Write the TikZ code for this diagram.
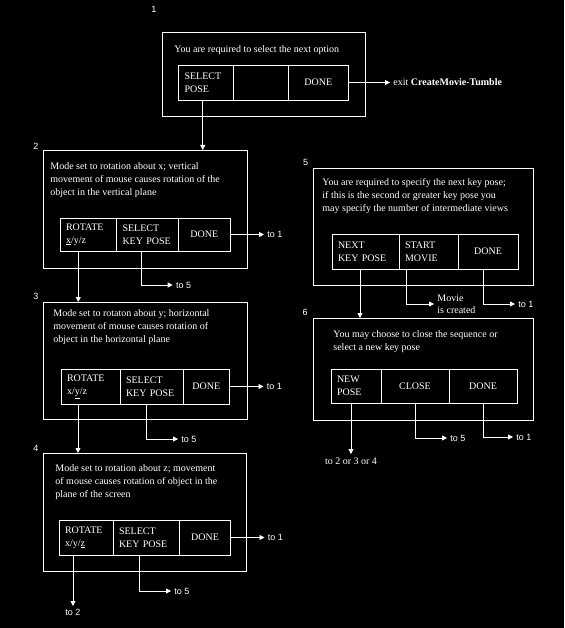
\documentclass[tikz,border=0pt]{standalone}
\usepackage{fontspec}
\setmainfont{Liberation Serif}
\setsansfont{Liberation Sans}
\usetikzlibrary{positioning,arrows.meta}

\begin{document}
\begin{tikzpicture}[x=1pt,y=-1pt,line width=0.8pt,>={Triangle[length=5pt,width=5pt]},
  every node/.style={text=white},
  panel/.style={draw=white,anchor=north west,inner sep=0pt,outer sep=0pt},
  btn/.style={draw=white,anchor=north west,outer sep=0pt,inner xsep=6pt,inner ysep=0pt,
    minimum height=35pt,text width=#1,align=left,font=\fontsize{10}{13}\selectfont},
  txt/.style={anchor=north west,inner sep=0pt,align=left,font=\fontsize{10}{13}\selectfont},
  lbl/.style={inner sep=3pt,font=\sffamily\fontsize{9}{11}\selectfont},
  lblserif/.style={inner sep=3pt,align=left,font=\fontsize{10}{12}\selectfont},
  num/.style={inner sep=0pt,font=\sffamily\fontsize{9}{11}\selectfont},
  wire/.style={draw=white,->}]
  \fill[black] (0,0) rectangle (564,628);

  \node[panel,minimum width=203pt,minimum height=84pt] (b1) at (162,32) {};
  \node[num] at (154,9) {1};
  \node[txt] (q1) at (174,45.5) {You are required to select the next option};
  \node[btn=42.5pt] (sel1) at (178.5,65) {SELECT\\POSE};
  \node[btn=43pt] (blank1) at (sel1.north east) {};
  \node[btn=48.5pt,align=center] (done1) at (blank1.north east) {DONE};
  \node[lblserif,right=41.5pt of done1] (exit1) {exit \textbf{CreateMovie-Tumble}};
  \draw[wire] (done1) -- (exit1);

  \node[panel,minimum width=204pt,minimum height=118pt] (b2) at (43,150) {};
  \node[num] at (36,146) {2};
  \node[txt] (q2) at (50,162) {Mode set to rotation about x; vertical\\movement of mouse causes rotation of the\\object in the vertical plane};
  \node[btn=44.5pt,minimum height=33pt] (rot2) at (60,218) {ROTATE\\\underline{x}/y/z};
  \node[btn=50pt,minimum height=33pt] (key2) at (rot2.north east) {SELECT\\KEY POSE};
  \node[btn=39.5pt,minimum height=33pt,align=center] (done2) at (key2.north east) {DONE};
  \node[lbl,right=34pt of done2] (t21) {to 1};
  \node[lbl,anchor=west] (t25) at (172.7,285) {to 5};
  \draw[wire] (done2) -- (t21);
  \coordinate (k2) at ([xshift=-6.5pt]key2.south);
  \draw[wire] (k2) |- (t25);

  \node[panel,minimum width=204pt,minimum height=117pt] (b3) at (43,302) {};
  \node[num] at (36,296) {3};
  \node[txt] (q3) at (53,309) {Mode set to rotaton about y; horizontal\\movement of mouse causes rotation of\\object in the horizontal plane};
  \node[btn=47pt] (rot3) at (61,369) {ROTATE\\x/\underline{y}/z};
  \node[btn=51pt] (key3) at (rot3.north east) {SELECT\\KEY POSE};
  \node[btn=34.5pt,align=center] (done3) at (key3.north east) {DONE};
  \node[lbl,right=34pt of done3] (t31) {to 1};
  \node[lbl,anchor=west] (t35) at (178,439) {to 5};
  \draw[wire] (done3) -- (t31);
  \coordinate (k3) at ([xshift=-5.5pt]key3.south);
  \draw[wire] (k3) |- (t35);

  \node[panel,minimum width=203.5pt,minimum height=118pt] (b4) at (43,453) {};
  \node[num] at (36,448) {4};
  \node[txt] (q4) at (55,464) {Mode set to rotation about z; movement\\of mouse causes rotation of object in the\\plane of the screen};
  \node[btn=42pt] (rot4) at (59,520) {ROTATE\\x/y/\underline{z}};
  \node[btn=54.5pt] (key4) at (rot4.north east) {SELECT\\KEY POSE};
  \node[btn=39pt,align=center] (done4) at (key4.north east) {DONE};
  \node[lbl,right=34pt of done4] (t41) {to 1};
  \node[lbl,anchor=west] (t45) at (171,591) {to 5};
  \node[lbl,anchor=north] (t42) at (73,606) {to 2};
  \draw[wire] (done4) -- (t41);
  \coordinate (k4) at ([xshift=-7pt]key4.south);
  \draw[wire] (k4) |- (t45);

  \coordinate (p1) at ([xshift=-3pt]sel1.south);
  \coordinate (p2) at ([xshift=-10pt]rot2.south);
  \coordinate (p3) at ([xshift=-12.5pt]rot3.south);
  \coordinate (p4) at ([xshift=-13pt]rot4.south);
  \draw[wire] (p1) -- (p1 |- b2.north);
  \draw[wire] (p2) -- (p2 |- b3.north);
  \draw[wire] (p3) -- (p3 |- b4.north);
  \draw[wire] (p4) -- (t42);

  \node[panel,minimum width=220pt,minimum height=117pt] (b5) at (313,168) {};
  \node[num] at (305.5,162.7) {5};
  \node[txt] (q5) at (322,178) {You are required to specify the next key pose;\\if this is the second or greater key pose you\\may specify the number of intermediate views};
  \node[btn=55pt] (next5) at (332,234) {NEXT\\KEY POSE};
  \node[btn=47pt] (movie5) at (next5.north east) {START\\MOVIE};
  \node[btn=48pt,align=center] (done5) at (movie5.north east) {DONE};
  \node[lblserif,anchor=west] (mv5) at (434,304) {Movie\\is created};
  \node[lbl,anchor=west] (t51) at (515,304) {to 1};
  \coordinate (n5) at ([xshift=-5.5pt]next5.south);
  \coordinate (m5) at ([xshift=-22.5pt]movie5.south);
  \coordinate (d5) at ([xshift=-5pt]done5.south);
  \draw[wire] (m5) |- (mv5);
  \draw[wire] (d5) |- (t51);

  \node[panel,minimum width=220pt,minimum height=102pt] (b6) at (313,318) {};
  \node[num] at (305,312.7) {6};
  \node[txt] (q6) at (333,330) {You may choose to close the sequence or\\select a new key pose};
  \node[btn=38pt,minimum height=34pt] (new6) at (331,369) {NEW\\POSE};
  \node[btn=56pt,minimum height=34pt,align=center] (close6) at (new6.north east) {CLOSE};
  \node[btn=56pt,minimum height=34pt,align=center] (done6) at (close6.north east) {DONE};
  \node[lblserif,anchor=north] (t6x) at (351,454) {to 2 or 3 or 4};
  \node[lbl,anchor=west] (t65) at (447,438) {to 5};
  \node[lbl,anchor=west] (t61) at (513,437) {to 1};
  \coordinate (n6) at ([xshift=-5pt]new6.south);
  \draw[wire] (n5) -- (n5 |- b6.north);
  \draw[wire] (n6) -- (t6x);
  \draw[wire] (close6) |- (t65);
  \draw[wire] (done6) |- (t61);
\end{tikzpicture}
\end{document}
